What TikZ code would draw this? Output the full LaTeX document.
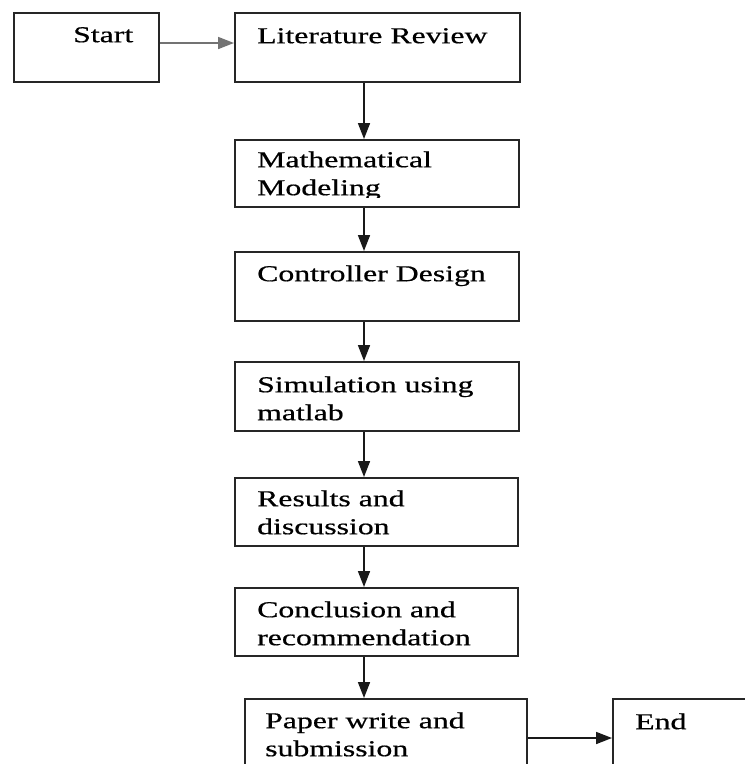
\documentclass[tikz,border=0pt]{standalone}
\usepackage{fontspec}
\setmainfont{Liberation Serif}[FakeStretch=1.4,FakeBold=0.6]
\usetikzlibrary{arrows.meta}
\begin{document}
\begin{tikzpicture}[x=1pt,y=-1pt,
  box/.style={draw=black!85, line width=2pt, inner sep=0pt, anchor=north west},
  lbl/.style={anchor=north west, inner sep=0pt, align=left,
    font=\fontsize{22.7}{28}\selectfont},
  flow/.style={draw=black!90, line width=1.7pt,
    -{Triangle[length=16pt,width=12pt]}}]
\clip (0,0) rectangle (745,764);
\fill[white] (0,0) rectangle (745,764);

% process boxes
\node[box, minimum width=145pt, minimum height=69pt] (start) at (13,12) {};
\node[box, minimum width=285pt, minimum height=69pt] (lit)   at (234,12) {};
\node[box, minimum width=284pt, minimum height=67pt] (math)  at (234,139) {};
\node[box, minimum width=284pt, minimum height=69pt] (ctrl)  at (234,251) {};
\node[box, minimum width=284pt, minimum height=69pt] (sim)   at (234,361) {};
\node[box, minimum width=283pt, minimum height=68pt] (res)   at (234,477) {};
\node[box, minimum width=283pt, minimum height=68pt] (conc)  at (234,587) {};
\node[box, minimum width=282pt, minimum height=110pt] (paper) at (244,698) {};
\node[box, minimum width=160pt, minimum height=110pt] (end)   at (612,698) {};

% box texts
\node[lbl] (startT) at (73,22.4)  {\strut Start};
\node[lbl] (litT)   at (257,23.4) {\strut Literature Review};
\begin{scope}
  \clip (234,139) rectangle (518,197);
  \node[lbl] (mathT) at (257,147.4) {\strut Mathematical\\\strut Modeling};
\end{scope}
\node[lbl] (ctrlT)  at (257,261.4) {\strut Controller Design};
\node[lbl] (simT)   at (257,372.4) {\strut Simulation using\\\strut matlab};
\node[lbl] (resT)   at (257,486.4) {\strut Results and\\\strut discussion};
\node[lbl] (concT)  at (257,597.4) {\strut Conclusion and\\\strut recommendation};
\node[lbl] (paperT) at (265,708.4) {\strut Paper write and\\\strut submission};
\node[lbl] (endT)   at (635,709.4) {\strut End};

% connector guides
\coordinate (spine) at (364,0);
\coordinate (rowA) at (0,43);
\coordinate (rowB) at (0,738);

% connectors
\draw[flow, draw=black!55] (start.east |- rowA) -- (lit.west |- rowA);
\draw[flow] (lit.south -| spine)  -- (math.north -| spine);
\draw[flow] (math.south -| spine) -- (ctrl.north -| spine);
\draw[flow] (ctrl.south -| spine) -- (sim.north -| spine);
\draw[flow] (sim.south -| spine)  -- (res.north -| spine);
\draw[flow] (res.south -| spine)  -- (conc.north -| spine);
\draw[flow] (conc.south -| spine) -- (paper.north -| spine);
\draw[flow] (paper.east |- rowB)  -- (end.west |- rowB);
\end{tikzpicture}
\end{document}
